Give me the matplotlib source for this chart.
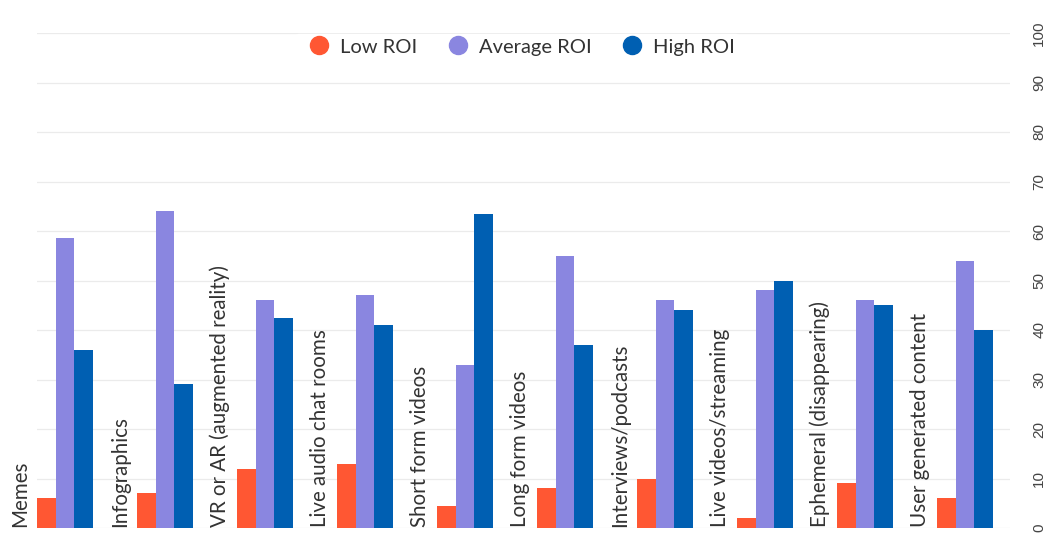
import matplotlib
matplotlib.use("Agg")
import matplotlib.pyplot as plt
import numpy as np
from matplotlib.lines import Line2D

categories = ["Memes", "Infographics", "VR or AR (augmented reality)", "Live audio chat rooms",
              "Short form videos", "Long form videos", "Interviews/podcasts",
              "Live videos/streaming", "Ephemeral (disappearing)", "User generated content"]
low_roi = [6, 7, 12, 13, 4.5, 8, 10, 2, 9, 6]
avg_roi = [58.5, 64, 46, 47, 33, 55, 46, 48, 46, 54]
high_roi = [36, 29, 42.5, 41, 63.5, 37, 44, 50, 45, 40]
series_names = ["Low ROI", "Average ROI", "High ROI"]
colors = ["#FF5733", "#8A86E0", "#005FB2"]
yticks = list(range(0, 101, 10))

W, H = 1047, 535
fig = plt.figure(figsize=(W / 100, H / 100), dpi=100)
ax = fig.add_axes([37 / W, 7 / H, (1010 - 37) / W, (528 - 33) / H])

x = np.arange(len(categories))
bw = 0.187
for k, (vals, c) in enumerate(zip([low_roi, avg_roi, high_roi], colors)):
    ax.bar(x + k * bw, vals, width=bw, align="edge", color=c, zorder=3)

for i, cat in enumerate(categories):
    ax.text(i - 0.17, 0.3, cat, rotation=90, ha="center", va="bottom",
            fontsize=14.8, family="Lato", color="#333333", clip_on=False)

ax.set_xlim(0, 9.73)
ax.set_ylim(0, 100)
ax.set_yticks(yticks)
ax.yaxis.tick_right()
ax.tick_params(axis="y", length=0, pad=16, labelsize=11, labelcolor="#444444", labelrotation=90)
for lab in ax.get_yticklabels():
    lab.set_family("Liberation Sans")
    lab.set_va("center")
ax.set_xticks([])
ax.grid(axis="y", color="#EBEBEB", linewidth=0.9, zorder=0)
for s in ax.spines.values():
    s.set_visible(False)

handles = [Line2D([0], [0], marker="o", linestyle="", markersize=13, markerfacecolor=c,
                  markeredgecolor=c) for c in colors]
leg = fig.legend(handles, series_names, loc="center", bbox_to_anchor=(517 / W, 1 - 47 / H),
                 ncol=3, frameon=True, facecolor="white", edgecolor="white", framealpha=1,
                 handletextpad=0.05, columnspacing=1.0, borderpad=0.2,
                 prop={"family": "Lato", "size": 14.5})
for t in leg.get_texts():
    t.set_color("#333333")

fig.savefig("out.png", dpi=100)
